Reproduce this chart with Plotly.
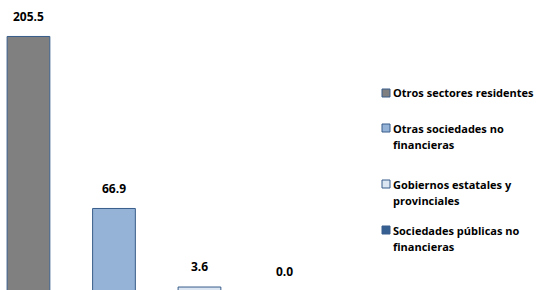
import plotly.graph_objects as go

categories = ["Otros sectores residentes", "Otras sociedades no<br>financieras",
              "Gobiernos estatales y<br>provinciales", "Sociedades públicas no<br>financieras"]
values = [205.5, 66.9, 3.6, 0.0]
labels = ["205.5", "66.9", "3.6", "0.0"]
colors = ["#808080", "#95b3d7", "#dce6f2", "#376092"]
outline = "#385d8a"

FONT = "Open Sans"
LABEL_GAP = 16.5  # data units between bar top and label centre
fig = go.Figure()
for i, (v, c) in enumerate(zip(values, colors)):
    fig.add_trace(go.Bar(x=[i], y=[v], width=0.5, marker=dict(color=c, line=dict(color=outline, width=1)),
                         showlegend=False, hoverinfo="skip"))
    fig.add_annotation(x=i, y=v + LABEL_GAP, text=f"<b>{labels[i]}</b>", showarrow=False, yanchor="middle",
                       font=dict(family=FONT, size=12, color="#000000"))

# manual legend
leg_y = [93, 128, 184, 230]
H = 290
W = 536
for name, c, yy in zip(categories, colors, leg_y):
    fig.add_shape(type="rect", xref="paper", yref="paper",
                  x0=382 / W, x1=390 / W, y0=1 - (yy + 4) / H, y1=1 - (yy - 4) / H,
                  fillcolor=c, line=dict(color=outline, width=1))
    for k, line in enumerate(name.split("<br>")):
        fig.add_annotation(xref="paper", yref="paper", x=391 / W, y=1 - (yy + 16.5 * k) / H, xanchor="left",
                           yanchor="middle", align="left", showarrow=False, text=f"<b>{line}</b>",
                           font=dict(family=FONT, size=11, color="#000000"))

fig.update_layout(
    width=W, height=H, margin=dict(l=0, r=0, t=0, b=0),
    paper_bgcolor="white", plot_bgcolor="white",
    barmode="overlay",
    xaxis=dict(range=[-0.333, 5.936], visible=False),
    yaxis=dict(range=[1.2, 234.9], visible=False),
)
fig.write_html("out.html", config={"displayModeBar": False},
               post_script="document.body.style.margin='0';")
